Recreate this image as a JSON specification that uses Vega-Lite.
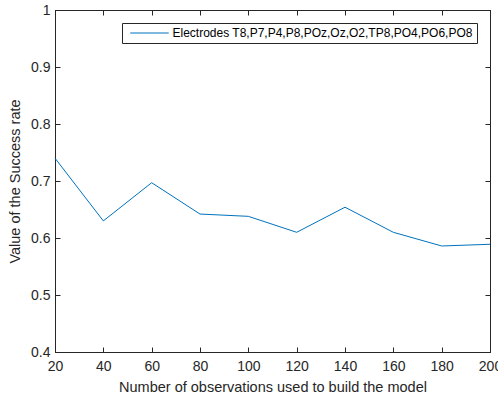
{
  "$schema": "https://vega.github.io/schema/vega-lite/v6.json",
  "width": 435,
  "height": 342,
  "autosize": "none",
  "padding": {"left": 55, "top": 10, "right": 8, "bottom": 49},
  "background": "white",
  "data": {"values": [
    {"n": 20, "rate": 0.740, "series": "Electrodes T8,P7,P4,P8,POz,Oz,O2,TP8,PO4,PO6,PO8"},
    {"n": 40, "rate": 0.630, "series": "Electrodes T8,P7,P4,P8,POz,Oz,O2,TP8,PO4,PO6,PO8"},
    {"n": 60, "rate": 0.697, "series": "Electrodes T8,P7,P4,P8,POz,Oz,O2,TP8,PO4,PO6,PO8"},
    {"n": 80, "rate": 0.642, "series": "Electrodes T8,P7,P4,P8,POz,Oz,O2,TP8,PO4,PO6,PO8"},
    {"n": 100, "rate": 0.638, "series": "Electrodes T8,P7,P4,P8,POz,Oz,O2,TP8,PO4,PO6,PO8"},
    {"n": 120, "rate": 0.610, "series": "Electrodes T8,P7,P4,P8,POz,Oz,O2,TP8,PO4,PO6,PO8"},
    {"n": 140, "rate": 0.654, "series": "Electrodes T8,P7,P4,P8,POz,Oz,O2,TP8,PO4,PO6,PO8"},
    {"n": 160, "rate": 0.610, "series": "Electrodes T8,P7,P4,P8,POz,Oz,O2,TP8,PO4,PO6,PO8"},
    {"n": 180, "rate": 0.586, "series": "Electrodes T8,P7,P4,P8,POz,Oz,O2,TP8,PO4,PO6,PO8"},
    {"n": 200, "rate": 0.589, "series": "Electrodes T8,P7,P4,P8,POz,Oz,O2,TP8,PO4,PO6,PO8"}
  ]},
  "config": {
    "font": "Liberation Sans",
    "view": {"stroke": "#262626", "strokeWidth": 1},
    "axis": {
      "grid": false,
      "domainColor": "#262626",
      "tickColor": "#262626",
      "labelColor": "#262626",
      "titleColor": "#262626",
      "labelFont": "Liberation Sans",
      "titleFont": "Liberation Sans",
      "labelFontSize": 14,
      "titleFontSize": 14.5,
      "titleFontWeight": "normal",
      "tickSize": -5,
      "labelPadding": 10
    }
  },
  "layer": [
    {
      "mark": {"type": "line", "strokeWidth": 1},
      "encoding": {
        "x": {"field": "n", "type": "quantitative", "scale": {"domain": [20, 200], "nice": false},
              "axis": {"orient": "bottom", "values": [20,40,60,80,100,120,140,160,180,200], "title": "Number of observations used to build the model", "titlePadding": 7, "labelPadding": 12, "labelFlush": false}},
        "y": {"field": "rate", "type": "quantitative", "scale": {"domain": [0.4, 1], "nice": false, "zero": false},
              "axis": {"orient": "left", "values": [0.4,0.5,0.6,0.7,0.8,0.9,1], "format": "~g", "title": "Value of the Success rate", "titlePadding": 8, "labelFlush": false}},
        "color": {"field": "series", "type": "nominal", "scale": {"range": ["#0072BD"]},
                  "legend": {"title": null, "orient": "top-right", "offset": 13, "strokeColor": "#262626", "fillColor": "white", "padding": 4, "symbolType": "M-3.5,0H3.5", "symbolSize": 121, "symbolOffset": 17.5, "labelOffset": 17, "symbolStrokeWidth": 1, "labelFontSize": 12, "labelLimit": 0, "labelColor": "#000000", "labelFont": "Liberation Sans"}}
      }
    },
    {
      "mark": {"type": "line", "strokeWidth": 0, "opacity": 0},
      "encoding": {
        "x": {"field": "n", "type": "quantitative", "axis": {"orient": "top", "values": [20,40,60,80,100,120,140,160,180,200], "labels": false, "title": null}},
        "y": {"field": "rate", "type": "quantitative", "axis": {"orient": "right", "values": [0.4,0.5,0.6,0.7,0.8,0.9,1], "labels": false, "title": null}}
      }
    }
  ],
  "resolve": {"axis": {"x": "independent", "y": "independent"}}
}
